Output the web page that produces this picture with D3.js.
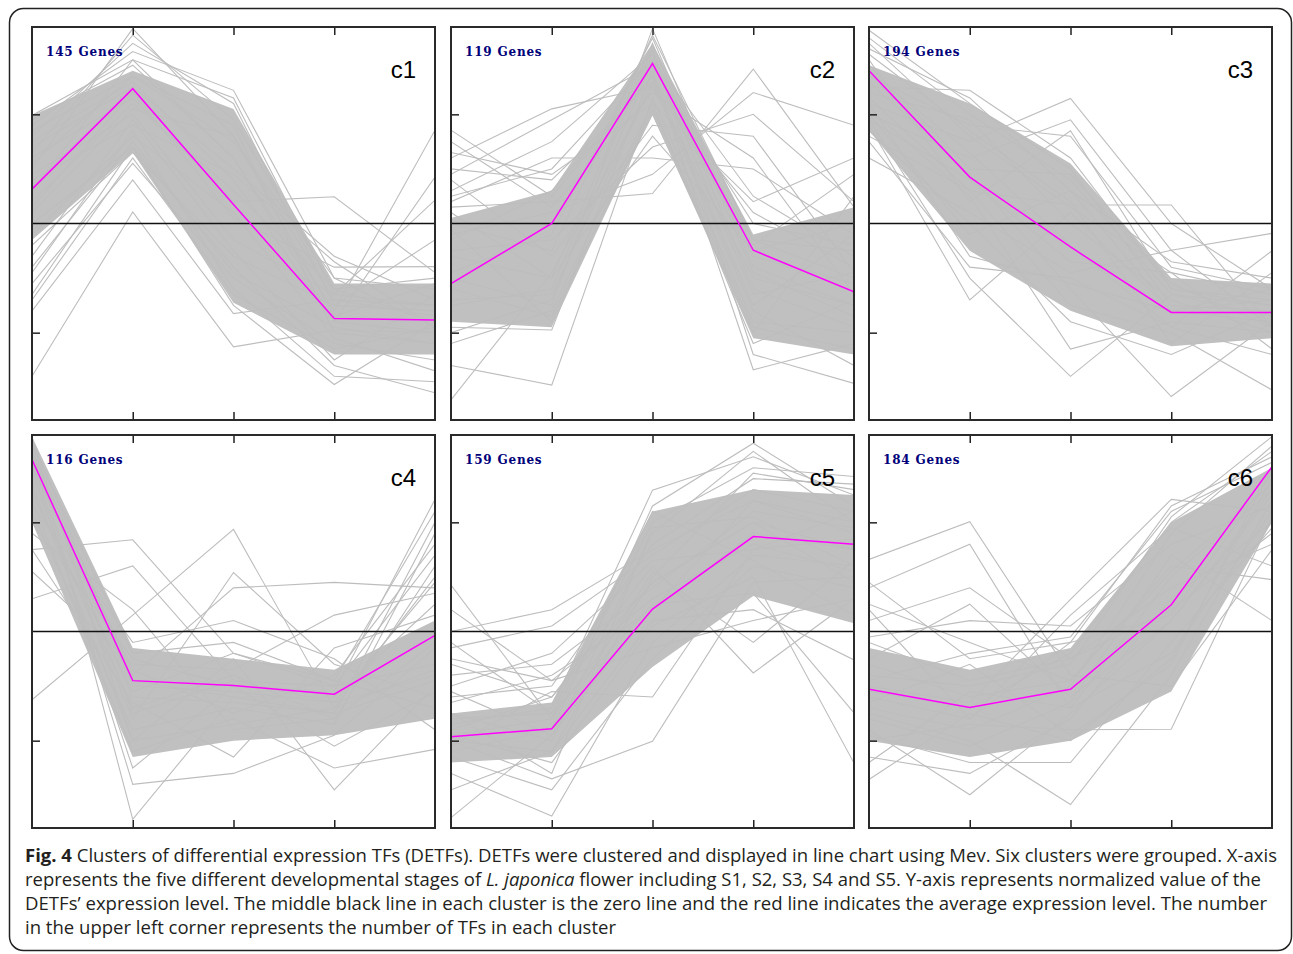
<!DOCTYPE html>
<html lang="en">
  <head>
    <meta charset="UTF-8" />
    <title>Fig. 4 DETF clusters</title>
    <script src="https://cdn.jsdelivr.net/npm/d3@7"></script>
    <style>
      body { margin: 0; background: #fff; }
      text { white-space: pre; }
    </style>
  </head>
  <body>
    <svg id="svg" width="1293" height="954"></svg>
    <script>
      const stages = ["S1", "S2", "S3", "S4", "S5"];
      const clusterNames = ["c1", "c2", "c3", "c4", "c5", "c6"];
      const geneCounts = [145, 119, 194, 116, 159, 184];
      const yTicks = [-2, 2];

      // average expression (magenta line)
      const meanLines = [
        [0.63, 2.47, 0.35, -1.74, -1.77],
        [-1.1, 0.0, 2.93, -0.49, -1.25],
        [2.8, 0.85, -0.43, -1.63, -1.63],
        [3.15, -0.9, -0.99, -1.15, -0.07],
        [-1.93, -1.78, 0.41, 1.74, 1.6],
        [-1.06, -1.39, -1.06, 0.49, 3.02]
      ];

      // dense bundle of each cluster, upper / lower edge per stage
      const coreUpper = [
        [1.98, 2.8, 2.1, -1.1, -1.1],
        [0.1, 0.6, 3.3, -0.2, 0.3],
        [2.9, 2.2, 1.1, -1.0, -1.1],
        [3.57, -0.3, -0.5, -0.7, 0.2],
        [-1.5, -1.3, 2.2, 2.6, 2.5],
        [-0.3, -0.7, -0.3, 2.0, 3.0]
      ];
      const coreLower = [
        [-0.3, 1.3, -1.45, -2.4, -2.4],
        [-1.8, -1.9, 2.0, -2.1, -2.4],
        [1.7, -0.5, -1.6, -2.25, -2.1],
        [2.0, -2.3, -2.0, -1.9, -1.6],
        [-2.4, -2.3, -0.65, 0.65, 0.15],
        [-2.0, -2.3, -2.0, -1.1, 2.0]
      ];

      // single gene profiles outside / at the edge of the bundle
      const c1Genes = [
        [1.0, 3.57, 1.6, -1.4, -1.7],
        [1.3, 3.45, 1.9, -1.2, -1.8],
        [1.6, 3.3, 2.2, -1.5, -1.6],
        [1.8, 3.15, 2.44, -1.0, -1.9],
        [1.98, 3.0, 2.3, -1.3, -1.5],
        [0.6, 3.0, 1.2, -1.8, -2.0],
        [1.9, 2.9, 1.2, -1.6, 1.71],
        [1.5, 2.6, 0.8, -1.8, 0.85],
        [1.2, 2.3, 0.4, 0.49, -0.9],
        [0.9, 2.0, -0.3, -1.3, 0.43],
        [0.3, 2.4, 0.1, -0.8, -0.79],
        [-2.8, 0.21, -2.26, -1.95, -2.0],
        [-1.6, 0.8, -1.65, -1.4, -1.5],
        [-1.3, 1.4, -1.5, -2.95, -1.8],
        [0.0, 1.4, -0.8, -2.6, -3.1],
        [-0.9, 1.7, -1.2, -2.8, -2.9],
        [-1.1, 1.1, -1.0, -2.2, -2.5],
        [-0.6, 1.9, -0.5, -2.5, -1.3],
        [1.7, 2.7, 1.5, -1.0, -1.2],
        [1.4, 2.5, 1.0, -0.6, -1.4],
        [0.4, 2.2, 0.6, -1.2, -1.0],
        [-0.8, 1.5, -0.9, -1.9, -2.2],
        [-0.2, 1.6, 0.2, -2.1, -2.7],
        [-1.4, 1.2, -1.3, -2.3, -1.9],
        [0.2, 2.1, 1.6, -1.7, -1.1],
        [1.1, 2.7, 1.8, -2.0, -2.2],
        [-0.4, 1.3, -0.6, -1.5, -0.3],
        [0.8, 1.8, 0.9, -0.7, -1.9]
      ];
      const c2Genes = [
        [1.71, 0.5, 2.7, -0.3, -0.5],
        [1.2, 2.1, 2.5, 0.2, -0.8],
        [0.9, 1.9, 2.9, 0.0, -0.4],
        [0.6, 1.5, 3.1, -0.6, -1.1],
        [0.3, 0.4, 0.55, 2.83, 0.3],
        [-0.2, 0.2, 0.9, 2.4, 1.8],
        [-0.5, -0.3, 1.4, 2.0, 0.4],
        [0.8, -0.6, 1.8, 1.6, -0.9],
        [1.3, 0.9, 2.2, 0.4, 1.2],
        [-3.23, -0.9, 2.5, -1.0, -1.5],
        [-2.6, -2.96, 2.3, -1.8, -2.0],
        [-1.9, -1.95, 2.8, -2.68, -2.2],
        [-1.5, -1.2, 3.2, -2.4, -2.93],
        [-1.0, -1.5, 3.57, -0.8, -1.5],
        [0.0, -0.5, 3.45, -0.3, -1.0],
        [-0.6, -1.0, 3.3, -1.2, -1.9],
        [-1.2, -1.7, 2.0, -2.0, 0.5],
        [0.4, 1.2, 1.2, 1.0, -0.2],
        [1.0, 0.8, 2.6, -0.4, 0.9],
        [0.5, 1.0, 3.0, 0.5, -0.6],
        [-0.3, 0.6, 2.7, -1.5, -0.2],
        [-0.9, -0.2, 3.4, -0.9, -1.7],
        [-1.4, -1.3, 2.6, -1.6, -2.6],
        [-2.2, -1.6, 2.2, -2.2, -1.4],
        [0.2, -1.0, 1.6, -0.5, 0.0],
        [-2.0, -1.4, 3.0, -1.3, -0.9],
        [1.5, 0.3, 2.4, 1.2, -1.3],
        [-0.1, -1.8, 2.1, -1.9, -2.3]
      ];
      const c3Genes = [
        [3.54, 2.2, 1.0, -1.5, -1.6],
        [3.4, 2.0, 0.8, -1.3, -1.7],
        [3.2, 2.3, 0.6, -1.6, -1.4],
        [2.5, 2.44, 1.2, -1.2, -1.5],
        [2.2, 1.5, 2.29, 0.0, -1.2],
        [2.0, 1.2, 1.9, -0.49, -1.9],
        [2.7, 1.8, 1.6, -0.8, -1.2],
        [3.0, 0.4, 1.7, -1.2, -1.4],
        [1.8, -1.4, 0.2, -1.6, -1.8],
        [1.9, -1.0, -2.8, -1.3, -1.5],
        [2.1, 0.5, -2.3, -1.8, -2.0],
        [1.6, 0.6, 0.34, 0.34, -1.9],
        [1.2, 0.2, -0.9, -0.49, -0.18],
        [2.6, 0.9, -1.2, -3.17, -1.8],
        [2.3, 0.6, -1.5, -2.0, -3.05],
        [1.5, -0.8, -1.0, -1.9, -0.5],
        [3.3, 1.6, 0.3, -0.9, -1.3],
        [2.9, 1.0, 0.9, -1.1, -1.9],
        [2.4, 1.9, 0.0, -1.4, -2.0],
        [2.0, -0.2, 0.6, -0.7, -1.0],
        [1.7, 0.0, -1.8, -2.4, -1.6],
        [2.8, 1.3, -0.4, -1.9, -2.4],
        [2.2, -0.6, -1.1, -1.6, -1.2],
        [3.1, 1.7, 0.4, -2.2, -0.9],
        [1.9, 0.8, -0.7, -0.9, -2.3]
      ];
      const c4Genes = [
        [1.5, 1.68, -0.4, -1.0, -0.6],
        [0.6, 1.2, -0.9, -1.3, -0.8],
        [-1.25, 0.3, 1.87, -1.4, -0.7],
        [2.8, -1.6, 1.08, -0.6, -1.2],
        [3.3, -0.8, 0.8, 0.9, 0.8],
        [3.5, -2.0, -0.5, -2.9, -1.0],
        [3.57, -3.44, -1.2, -1.5, -0.9],
        [3.2, -2.8, -2.6, -1.9, -0.3],
        [2.4, -2.2, -1.6, -2.5, -2.16],
        [2.0, -0.5, -1.0, -1.1, 2.42],
        [2.9, -1.2, -1.3, -1.5, 2.0],
        [3.0, -0.7, -1.5, -0.8, 1.6],
        [2.6, -1.4, -0.8, -1.6, 1.2],
        [3.1, -1.0, -1.1, -1.3, 0.9],
        [3.4, -0.4, -0.2, -0.9, -1.4],
        [1.1, -0.6, -0.7, 0.3, 0.7],
        [2.2, -1.8, -1.4, -1.7, 1.8],
        [3.3, -1.5, -0.9, -1.0, 1.4],
        [2.7, -2.0, -1.7, -1.4, 1.0],
        [3.5, -0.9, -1.2, -1.2, 0.5],
        [2.5, -1.1, -0.4, -0.9, 2.2],
        [1.8, 0.4, -1.8, -1.6, -0.2],
        [3.0, -2.5, -1.0, -2.1, -1.1],
        [2.3, -0.2, 0.2, -0.5, -1.8],
        [1.5, -1.3, -2.3, -0.3, 0.3]
      ];
      const c5Genes = [
        [0.85, -1.6, 0.9, 2.0, 1.5],
        [0.0, 0.4, 1.5, 2.4, 2.0],
        [-0.3, 0.1, 1.4, 2.6, 2.2],
        [-0.8, -0.6, 0.8, 2.2, 1.9],
        [-3.41, -1.9, 0.4, 1.8, 1.5],
        [-2.6, -3.38, -0.2, 1.4, 1.2],
        [-2.0, -2.7, -2.01, 0.9, 1.0],
        [-1.7, -1.4, 2.59, 3.2, 2.5],
        [-2.2, -1.8, 2.3, 3.45, 2.3],
        [-1.5, -2.0, 1.8, 3.3, 2.0],
        [-1.9, -1.6, 2.0, 3.0, 2.84],
        [-1.8, -1.2, 1.2, -0.76, 0.6],
        [-2.0, -2.2, 0.2, 0.4, -0.52],
        [-1.6, -1.5, 0.5, 0.7, -1.49],
        [-1.9, -2.4, 0.1, 1.0, -2.41],
        [-0.5, -0.9, -0.3, 0.2, 0.6],
        [-1.2, -1.0, 1.6, 2.8, 2.7],
        [0.4, -0.9, 0.6, 1.6, 1.1],
        [-0.6, -1.2, 0.9, 2.0, 0.9],
        [-1.0, -0.4, 1.3, 1.5, 2.2],
        [-1.3, -0.8, 0.4, 2.4, 1.8],
        [-2.9, -2.2, 1.0, 2.9, 2.6],
        [-2.3, -2.9, -0.5, 1.2, 0.8],
        [-1.5, -2.6, 1.9, 2.1, 1.2],
        [-0.2, -1.5, 2.2, 1.3, 0.3],
        [-2.1, -1.1, -1.2, 1.5, 1.7],
        [-1.1, -1.9, 1.1, -0.2, 1.3]
      ];
      const c6Genes = [
        [1.32, 2.01, -0.8, -1.0, 1.5],
        [0.8, 1.6, -1.4, -0.4, 2.2],
        [0.2, 0.8, -0.5, 0.4, 1.8],
        [-0.5, 0.5, -1.2, 0.2, 2.5],
        [-2.71, -1.5, -2.0, -0.5, 2.8],
        [-1.8, -2.99, -1.5, 0.2, 2.6],
        [-1.5, -2.0, -3.17, -0.8, 2.4],
        [-1.0, -1.3, 0.59, 2.42, 2.2],
        [-1.2, -1.6, -0.2, 2.3, 3.2],
        [-0.8, -1.0, -0.6, 2.1, 3.57],
        [-1.4, -1.8, -1.0, 1.8, 3.4],
        [-0.6, -1.2, -0.9, 1.2, 0.95],
        [-1.6, -2.1, -1.3, 1.4, 0.2],
        [-2.0, -1.7, -1.8, -1.79, 2.1],
        [-0.2, -0.9, -0.5, 0.8, 1.6],
        [-1.1, -1.4, -0.4, 2.0, 3.3],
        [0.9, -0.5, -0.2, 0.3, 2.9],
        [0.5, -0.2, -0.9, 1.1, 2.7],
        [-0.1, 0.2, 0.1, 1.6, 2.3],
        [-0.9, -0.4, -0.1, 2.2, 3.1],
        [-2.3, -2.6, -1.6, 0.6, 2.0],
        [-1.9, -2.4, -2.4, -0.2, 1.9],
        [-2.4, -1.1, -1.4, 1.0, 2.6],
        [0.4, -1.6, 0.3, 1.9, 1.2],
        [-1.3, -0.6, -1.9, -0.6, 3.0]
      ];
      const geneLines = [c1Genes, c2Genes, c3Genes, c4Genes, c5Genes, c6Genes];

      const captionLines = [
        [["Fig. 4", "bold"], [" Clusters of differential expression TFs (DETFs). DETFs were clustered and displayed in line chart using Mev. Six clusters were grouped. X-axis", ""]],
        [["represents the five different developmental stages of ", ""], ["L. japonica", "italic"], [" flower including S1, S2, S3, S4 and S5. Y-axis represents normalized value of the", ""]],
        [["DETFs\u2019 expression level. The middle black line in each cluster is the zero line and the red line indicates the average expression level. The number", ""]],
        [["in the upper left corner represents the number of TFs in each cluster", ""]]
      ];

      const panelW = 403;
      const panelH = 393;
      const colX = [32, 451, 869];
      const rowY = [27, 435];
      const captionW = [1252, 1236, 1242, 591];

      const svg = d3.select("#svg");

      // outer frame
      svg.append("rect")
        .attr("x", 9.5).attr("y", 8.5)
        .attr("width", 1282).attr("height", 942)
        .attr("rx", 14)
        .attr("fill", "none")
        .attr("stroke", "#222")
        .attr("stroke-width", 1.5);

      const x = d3.scalePoint().domain(stages).range([0, panelW]);
      const y = d3.scaleLinear().domain([-3.6, 3.6]).range([panelH, 0]);

      const line = d3.line()
        .x((d, i) => x(stages[i]))
        .y(d => y(d));
      const area = d3.area()
        .x((d, i) => x(stages[i]))
        .y0(d => y(d[0]))
        .y1(d => y(d[1]));

      clusterNames.forEach((name, k) => {
        const g = svg.append("g")
          .attr("transform", `translate(${colX[k % 3]},${rowY[Math.floor(k / 3)]})`);

        g.append("clipPath").attr("id", "clip" + k)
          .append("rect").attr("width", panelW).attr("height", panelH);

        const plot = g.append("g").attr("clip-path", `url(#clip${k})`);

        plot.append("path")
          .datum(d3.zip(coreLower[k], coreUpper[k]))
          .attr("d", area)
          .attr("fill", "#c0c0c0");

        plot.selectAll(".gene")
          .data(geneLines[k])
          .join("path")
          .attr("class", "gene")
          .attr("d", line)
          .attr("fill", "none")
          .attr("stroke", "#bdbdbd")
          .attr("stroke-width", 1.1);

        // zero line
        plot.append("line")
          .attr("x1", 0).attr("x2", panelW)
          .attr("y1", y(0)).attr("y2", y(0))
          .attr("stroke", "#111")
          .attr("stroke-width", 1.5);

        plot.append("path")
          .datum(meanLines[k])
          .attr("d", line)
          .attr("fill", "none")
          .attr("stroke", "#ff00ff")
          .attr("stroke-width", 1.5);

        // ticks point inward, no labels
        const inner = stages.slice(1, 4);
        const axes = [
          g.append("g").call(d3.axisTop(x).tickValues(inner).tickSize(-8).tickFormat("")),
          g.append("g").attr("transform", `translate(0,${panelH})`)
            .call(d3.axisBottom(x).tickValues(inner).tickSize(-8).tickFormat("")),
          g.append("g").call(d3.axisLeft(y).tickValues(yTicks).tickSize(-8).tickFormat(""))
        ];
        axes.forEach(a => {
          a.select(".domain").remove();
          a.selectAll("line").attr("stroke", "#222").attr("stroke-width", 1.5);
        });

        g.append("rect")
          .attr("width", panelW).attr("height", panelH)
          .attr("fill", "none")
          .attr("stroke", "#2a2a2a")
          .attr("stroke-width", 2);

        g.append("text")
          .attr("x", 14).attr("y", 29)
          .attr("font-family", "DejaVu Serif")
          .attr("font-weight", "bold")
          .attr("font-size", 12)
          .attr("letter-spacing", 0.8)
          .attr("fill", "#00007a")
          .text(geneCounts[k] + " Genes");

        g.append("text")
          .attr("x", panelW - 19).attr("y", 51)
          .attr("text-anchor", "end")
          .attr("font-family", "Liberation Sans, Arial, sans-serif")
          .attr("font-size", 24)
          .attr("fill", "#000")
          .text(name);
      });

      // caption
      captionLines.forEach((parts, i) => {
        const t = svg.append("text")
          .attr("x", 25).attr("y", 862 + i * 24)
          .attr("font-family", "Open Sans, sans-serif")
          .attr("font-size", 18.5)
          .attr("fill", "#231f20")
          .attr("textLength", captionW[i])
          .attr("lengthAdjust", "spacingAndGlyphs");
        parts.forEach(p => {
          t.append("tspan")
            .attr("font-weight", p[1] === "bold" ? "bold" : null)
            .attr("font-style", p[1] === "italic" ? "italic" : null)
            .text(p[0]);
        });
      });
    </script>
  </body>
</html>
